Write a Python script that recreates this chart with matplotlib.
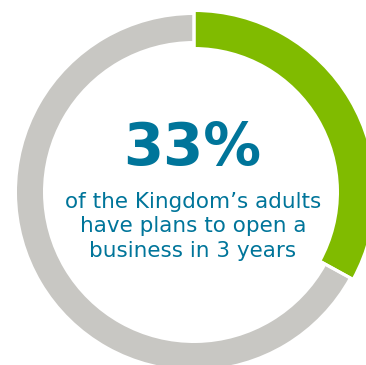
import matplotlib
matplotlib.use("Agg")
import matplotlib.pyplot as plt

# ===== DATA =====
labels = ["Plan to open a business", "Other adults"]
shares = [33, 67]
headline = f"{shares[0]}%"
caption = ["of the Kingdom\u2019s adults", "have plans to open a", "business in 3 years"]

# ===== STYLE =====
GREEN = "#80bb00"
GRAY = "#c8c7c3"
TEAL = "#00759a"
CX, CY = 194, 173  # ring centre in pixel units (y up)

fig = plt.figure(figsize=(3.66, 3.65), dpi=100)
ax = fig.add_axes([0, 0, 1, 1])

# gray ring first, then the slightly wider green slice on top
ax.pie(shares, colors=["none", GRAY], startangle=90, counterclock=False,
       radius=177, center=(CX, CY),
       wedgeprops=dict(width=26, edgecolor="white", linewidth=0))
ax.pie(shares, colors=[GREEN, "none"], startangle=90, counterclock=False,
       radius=180, center=(CX, CY),
       wedgeprops=dict(width=35, edgecolor="none", linewidth=0))

# thin white cuts where the slices meet
ax.pie(shares, colors=["none", "none"], startangle=90, counterclock=False,
       radius=184, center=(CX, CY),
       wedgeprops=dict(width=44, edgecolor="white", linewidth=2.2))

ax.set_xlim(0, 366)
ax.set_ylim(0, 365)
ax.set_aspect("equal")
ax.axis("off")

ax.text(192, 365 - 148, headline, ha="center", va="center", color=TEAL,
        fontsize=41.5, fontweight="bold", family="DejaVu Sans")
for i, line in enumerate(caption):
    ax.text(193, 365 - (202 + i * 24.5), line, ha="center", va="center",
            color=TEAL, fontsize=15.5, family="DejaVu Sans")

fig.savefig("out.png", dpi=100)
